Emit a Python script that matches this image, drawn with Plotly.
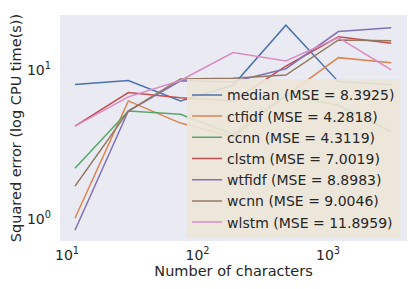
import plotly.graph_objects as go

n_chars = [11.5, 29.5, 74, 187, 475, 1200, 3050]

median = [8.0, 8.5, 6.2, 7.9, 20.0, 8.35, 8.0]
ctfidf = [1.01, 6.2, 4.4, 3.55, 6.7, 12.1, 11.2]
ccnn = [2.19, 5.3, 5.05, 3.7, 6.8, 5.8, 3.85]
clstm = [4.2, 7.05, 6.5, 6.2, 10.6, 16.7, 15.1]
wtfidf = [0.84, 5.3, 8.45, 8.35, 10.2, 18.1, 19.2]
wcnn = [1.66, 5.3, 8.7, 8.8, 9.25, 15.9, 15.7]
wlstm = [4.2, 6.6, 8.5, 13.1, 11.5, 16.5, 10.0]

names = ["median (MSE = 8.3925)", "ctfidf (MSE = 4.2818)", "ccnn (MSE = 4.3119)",
         "clstm (MSE = 7.0019)", "wtfidf (MSE = 8.8983)", "wcnn (MSE = 9.0046)",
         "wlstm (MSE = 11.8959)"]
series = [median, ctfidf, ccnn, clstm, wtfidf, wcnn, wlstm]
colors = ["#4C72B0", "#DD8452", "#55A868", "#C44E52", "#8172B3", "#937860", "#DA8BC3"]

x_tickvals = [10, 100, 1000]
x_ticktext = ["10<sup>1</sup>", "10<sup>2</sup>", "10<sup>3</sup>"]
y_tickvals = [1, 10]
y_ticktext = ["10<sup>0</sup>", "10<sup>1</sup>"]

fig = go.Figure()
for nm, ys, c in zip(names, series, colors):
    fig.add_trace(go.Scatter(x=n_chars, y=ys, mode="lines", name=nm,
                             line=dict(color=c, width=1.5)))

font_fam = "DejaVu Sans"
fig.update_layout(
    width=399, height=273,
    margin=dict(l=52, r=0, t=7, b=40),
    paper_bgcolor="white",
    plot_bgcolor="#EAEAF2",
    font=dict(family=font_fam, size=14, color="#262626"),
    showlegend=True,
    legend=dict(
        x=0.98, y=0.012, xanchor="right", yanchor="bottom",
        bgcolor="rgba(237,229,216,0.9)",
        borderwidth=0,
        font=dict(family=font_fam, size=14, color="#262626"),
        tracegroupgap=0, itemwidth=30,
    ),
    xaxis=dict(
        type="log", range=[0.946, 3.605],
        tickvals=x_tickvals, ticktext=x_ticktext,
        showgrid=False, zeroline=False, showline=False, ticks="",
        ticklabelstandoff=4,
        tickfont=dict(size=14),
        title=dict(text="Number of characters", font=dict(size=14.5), standoff=2),
    ),
    yaxis=dict(
        type="log", range=[-0.148, 1.369],
        tickvals=y_tickvals, ticktext=y_ticktext,
        showgrid=False, zeroline=False, showline=False, ticks="",
        ticklabelstandoff=8,
        tickfont=dict(size=14),
        title=dict(text="Squared error (log CPU time(s))", font=dict(size=14.5), standoff=4),
    ),
)

fig.write_html("out.html")
